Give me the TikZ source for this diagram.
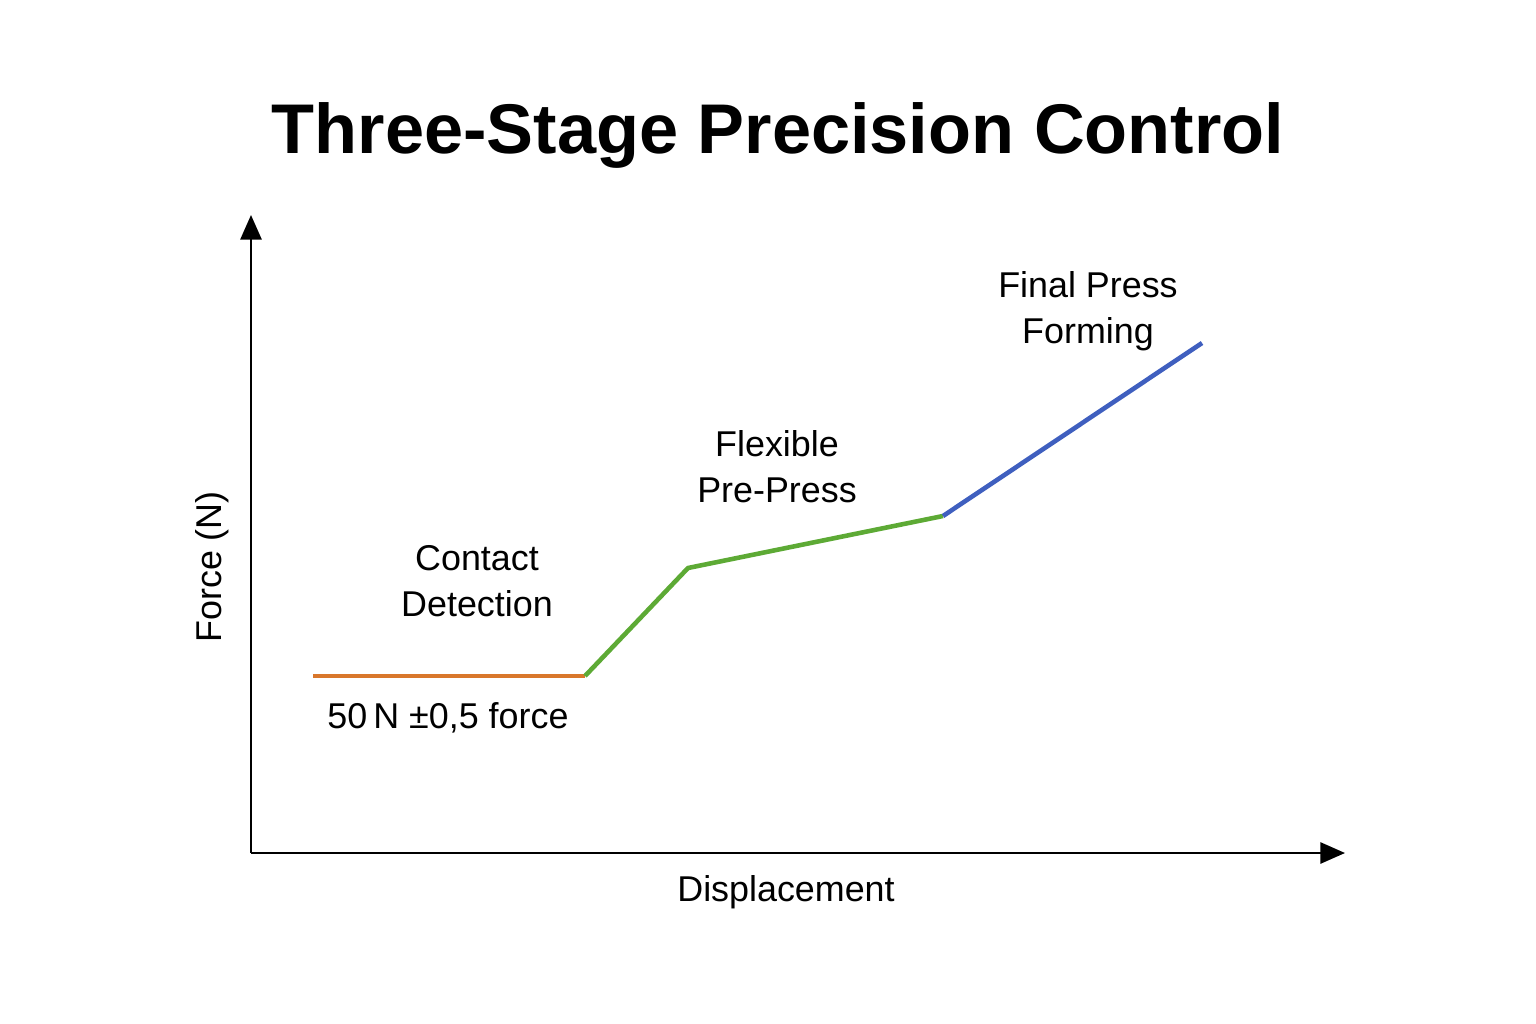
\documentclass[tikz,border=0pt]{standalone}
\usepackage{fontspec}
\setmainfont{Liberation Sans}
\usetikzlibrary{arrows.meta}
\definecolor{corange}{HTML}{D9772B}
\definecolor{cgreen}{HTML}{5DAA35}
\definecolor{cblue}{HTML}{3F5FBF}
\begin{document}
\begin{tikzpicture}[x=0.01cm,y=-0.01cm,
  lbl/.style={font=\fontsize{10.2}{13}\selectfont,align=center},
  axis/.style={line width=0.7pt,-{Triangle[length=7pt,width=6pt]}},
  seg/.style={line width=1.3pt}]
\useasboundingbox (0,0) rectangle (1536,1024);
\node[font=\fontsize{20}{24}\selectfont\bfseries] (title) at (778,135) {Three-Stage Precision Control};
\coordinate (o) at (251,853);
\coordinate (ytop) at (251,215);
\coordinate (xend) at (1345,853);
\draw[axis] (o) -- (ytop);
\draw[axis] (o) -- (xend);
\coordinate (a) at (313,676);
\coordinate (b) at (585,676);
\coordinate (c) at (688,568);
\coordinate (d) at (943,516);
\coordinate (e) at (1202,343);
\draw[seg,corange] (a) -- (b);
\draw[seg,cgreen,line join=round] (b) -- (c) -- (d);
\draw[seg,cblue] (d) -- (e);
\node[lbl] (cd) at (477,581) {Contact\\Detection};
\node[lbl] (f50) at (448,718) {50\,N ±0,5 force};
\node[lbl] (fp) at (777,467) {Flexible\\Pre-Press};
\node[lbl] (fpf) at (1088,311) {Final Press\\Forming};
\node[lbl,rotate=90] (fy) at (212,567) {Force (N)};
\node[lbl] (dx) at (786,892) {Displacement};
\end{tikzpicture}
\end{document}
